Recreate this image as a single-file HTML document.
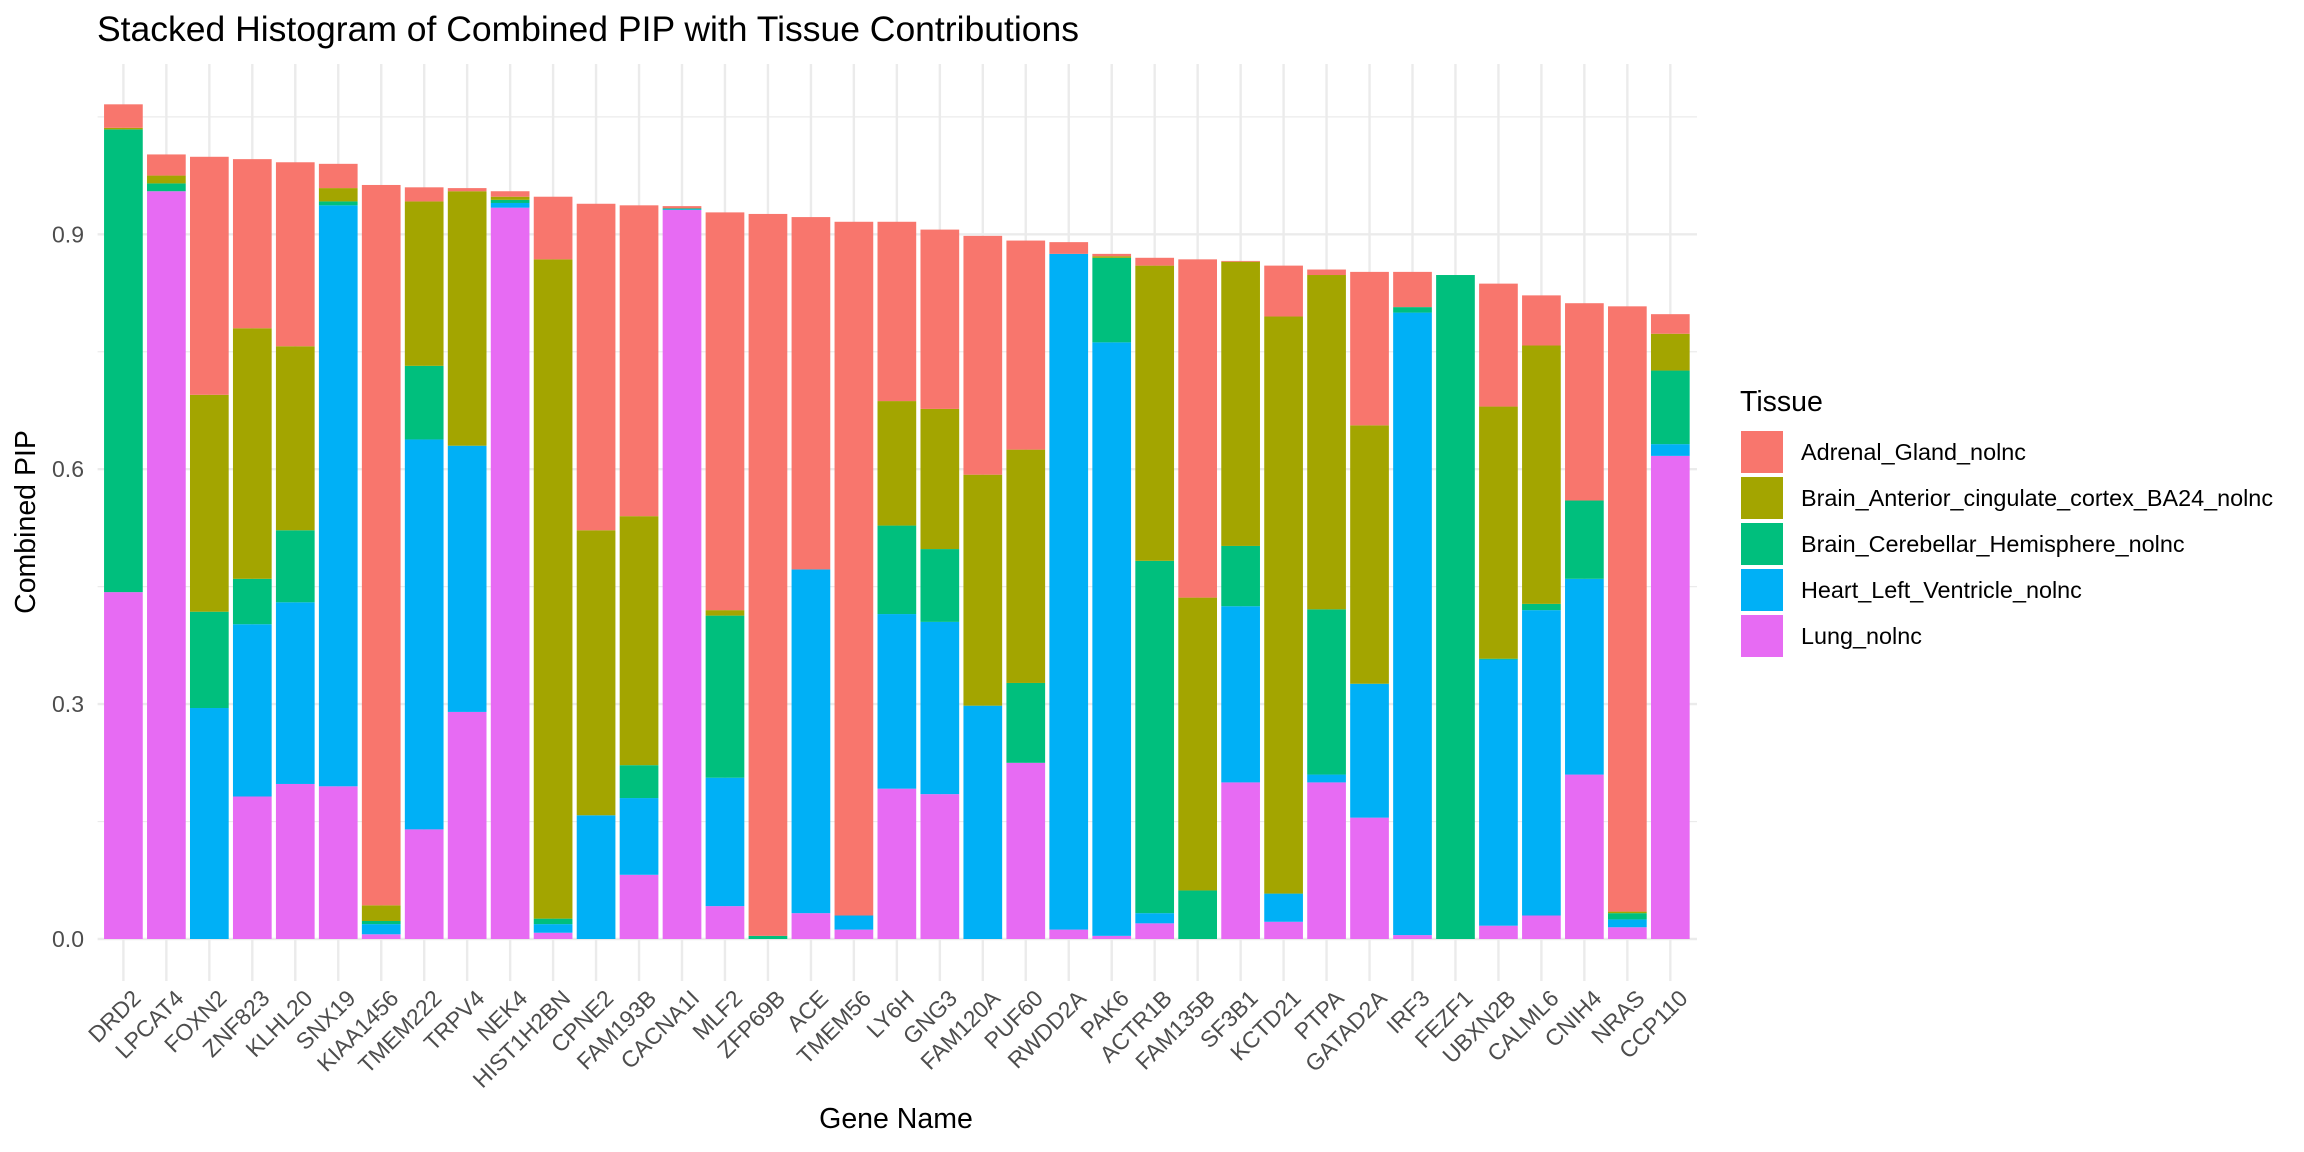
<!DOCTYPE html>
<html><head><meta charset="utf-8"><style>
html,body{margin:0;padding:0;background:#fff;}
svg{display:block;font-family:"Liberation Sans",Arial,sans-serif;}
</style></head><body>
<svg id="chart" width="2304" height="1152" viewBox="0 0 2304 1152">
<text x="97" y="41" font-size="35.5" fill="#000">Stacked Histogram of Combined PIP with Tissue Contributions</text>
<g id="grid"></g>
<g id="bars"></g>
<g id="yticks"></g>
<g id="xticks"></g>
<text x="896" y="1128" font-size="28.5" text-anchor="middle" fill="#000">Gene Name</text>
<text transform="translate(35,522) rotate(-90)" font-size="28.5" text-anchor="middle" fill="#000">Combined PIP</text>
<g id="legend">
<text x="1740" y="411" font-size="28.5" fill="#000">Tissue</text>
</g>
</svg>
<script>
const genes = ["DRD2","LPCAT4","FOXN2","ZNF823","KLHL20","SNX19","KIAA1456","TMEM222","TRPV4","NEK4","HIST1H2BN","CPNE2","FAM193B","CACNA1I","MLF2","ZFP69B","ACE","TMEM56","LY6H","GNG3","FAM120A","PUF60","RWDD2A","PAK6","ACTR1B","FAM135B","SF3B1","KCTD21","PTPA","GATAD2A","IRF3","FEZF1","UBXN2B","CALML6","CNIH4","NRAS","CCP110"];
const tissues = ["Adrenal_Gland_nolnc","Brain_Anterior_cingulate_cortex_BA24_nolnc","Brain_Cerebellar_Hemisphere_nolnc","Heart_Left_Ventricle_nolnc","Lung_nolnc"];
const colors = ["#F8766D","#A3A500","#00BF7D","#00B0F6","#E76BF3"];
const lung = [.443,.955,0,.182,.198,.195,.006,.14,.29,.934,.008,0,.082,.931,.042,0,.033,.012,.192,.185,0,.225,.012,.004,.02,0,.2,.022,.2,.155,.005,0,.017,.03,.21,.015,.617];
const heart = [0,0,.295,.22,.232,.742,.013,.498,.34,.006,.011,.158,.098,.001,.164,0,.439,.018,.223,.22,.298,0,.863,.758,.013,0,.225,.036,.01,.171,.795,0,.34,.39,.25,.01,.015];
const cerebellar = [.591,.01,.123,.058,.092,.005,.004,.094,0,.004,.007,0,.042,.001,.207,.004,0,0,.113,.093,0,.102,0,.108,.45,.062,.077,0,.211,0,.007,.848,.001,.008,.1,.008,.094];
const brainACC = [.002,.01,.277,.32,.235,.017,.02,.21,.325,.004,.842,.364,.318,0,.007,0,0,0,.159,.179,.295,.298,0,.002,.377,.374,.363,.737,.427,.33,0,0,.322,.33,0,.002,.047];
const adrenal = [.03,.027,.304,.216,.235,.031,.92,.018,.004,.007,.08,.417,.397,.003,.508,.922,.45,.886,.229,.229,.305,.267,.015,.003,.01,.432,.001,.065,.007,.196,.045,0,.157,.064,.252,.773,.025];
const yTicks = [0,0.3,0.6,0.9];
const yTickLabels = ["0.0","0.3","0.6","0.9"];
const yMinor = [0.15,0.45,0.75,1.05];

const NS="http://www.w3.org/2000/svg";
const x0=123.4, step=42.97, bw=38.7;
const yScale=v=>939-v*783;
const xScale=i=>x0+i*step;
const panelL=97.6, panelR=1697, panelT=64, panelB=981;
function mk(tag,attrs,parent){const e=document.createElementNS(NS,tag);for(const k in attrs)e.setAttribute(k,attrs[k]);parent.appendChild(e);return e;}
const grid=document.getElementById('grid');
yMinor.forEach(v=>{const l=mk('line',{x1:panelL,x2:panelR,y1:yScale(v),y2:yScale(v),stroke:'#EBEBEB','stroke-width':1.2},grid);

});
yTicks.forEach(v=>{const l=mk('line',{x1:panelL,x2:panelR,y1:yScale(v),y2:yScale(v),stroke:'#EBEBEB','stroke-width':2.4},grid);

});
genes.forEach((g,i)=>{const l=mk('line',{x1:xScale(i),x2:xScale(i),y1:panelT,y2:panelB,stroke:'#EBEBEB','stroke-width':2.4},grid);

});
const bars=document.getElementById('bars');
const series=[lung,heart,cerebellar,brainACC,adrenal];
const sColors=[colors[4],colors[3],colors[2],colors[1],colors[0]];
const sNames=['lung','heart','cerebellar','brain-acc','adrenal'];
genes.forEach((g,i)=>{let cum=0;
series.forEach((s,k)=>{const v=s[i];if(v<=0)return;
const r=mk('rect',{x:xScale(i)-bw/2,y:yScale(cum+v),width:bw,height:v*783,fill:sColors[k]},bars);


cum+=v;});});
const yt=document.getElementById('yticks');
yTicks.forEach((v,i)=>{const t=mk('text',{x:84,y:yScale(v)+8,'text-anchor':'end','font-size':23,fill:'#4D4D4D'},yt);t.textContent=yTickLabels[i];

});
const xt=document.getElementById('xticks');
genes.forEach((g,i)=>{const x=xScale(i)+7,y=988;
const t=mk('text',{transform:`translate(${x},${y}) rotate(-45)`,'text-anchor':'end','font-size':23,fill:'#4D4D4D',dy:'0.72em'},xt);t.textContent=g;

});
const lg=document.getElementById('legend');
tissues.forEach((t,i)=>{const y=431+i*46;
const r=mk('rect',{x:1741,y:y,width:42,height:42,fill:colors[i]},lg);


const tx=mk('text',{x:1801,y:y+29,'font-size':23.4,fill:'#000'},lg);tx.textContent=t;

});
</script>
</body></html>
